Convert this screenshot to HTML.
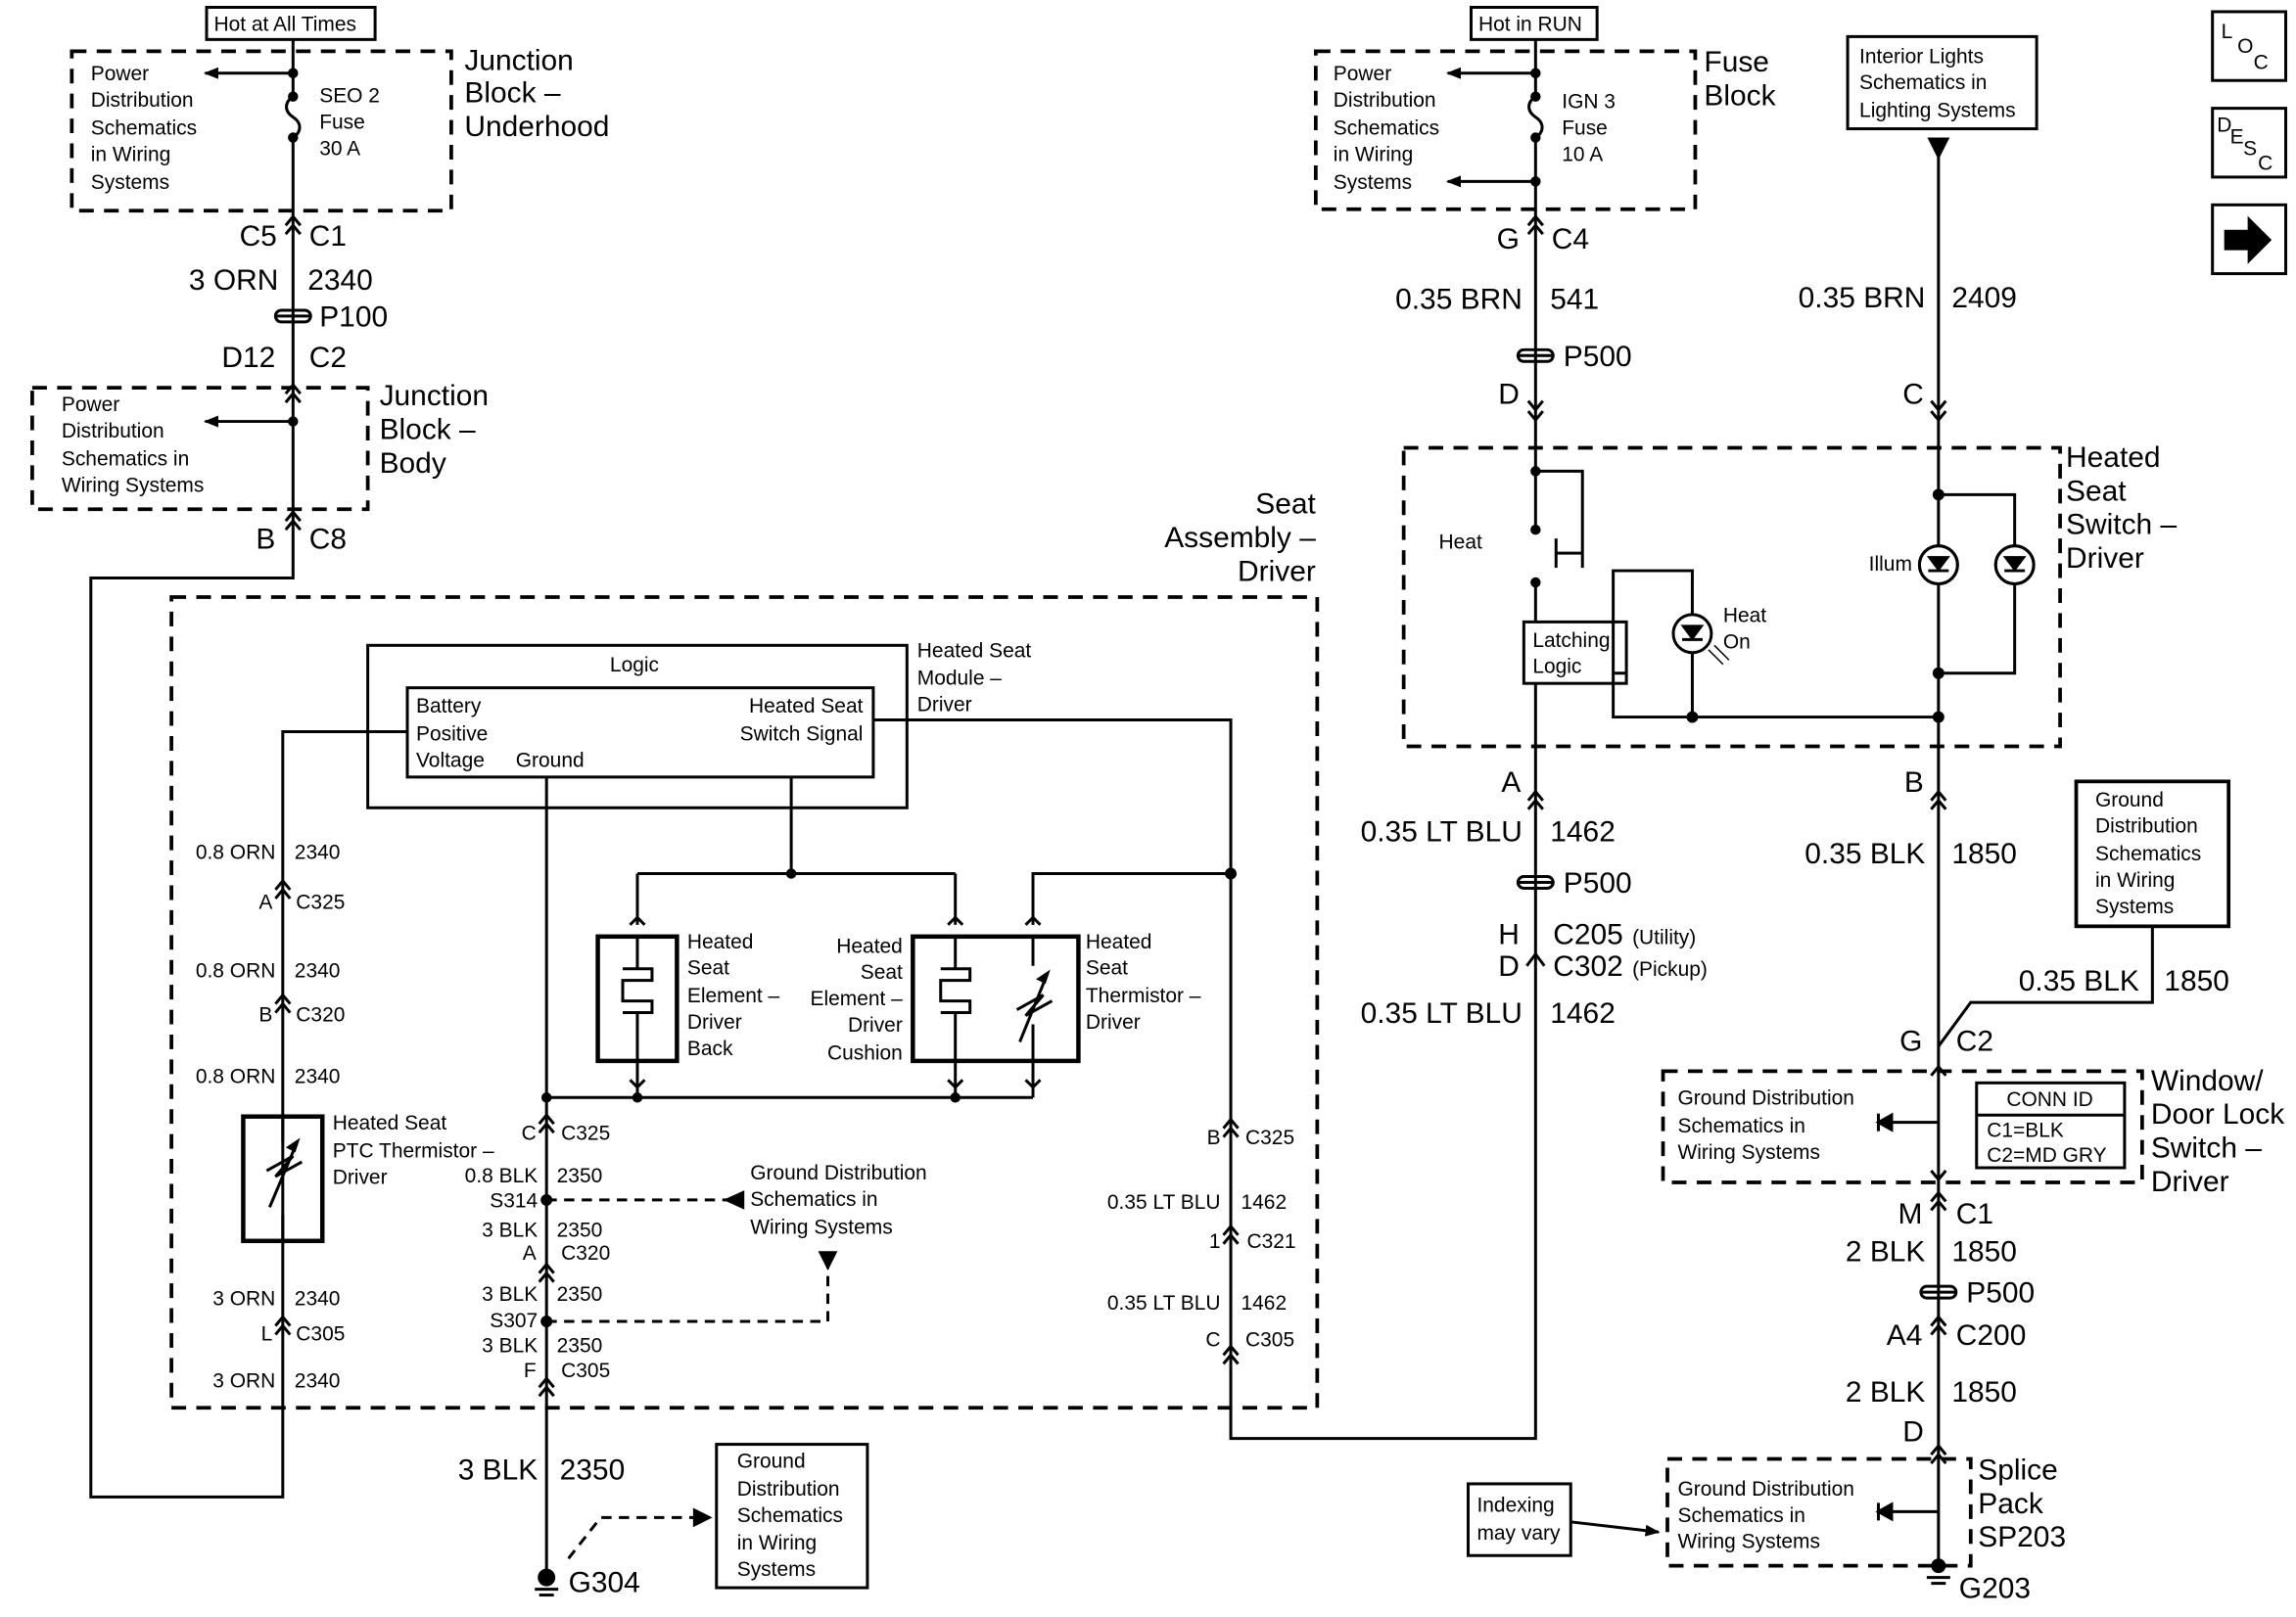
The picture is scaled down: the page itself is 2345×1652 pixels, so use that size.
<!DOCTYPE html>
<html><head><meta charset="utf-8"><style>
html,body{margin:0;padding:0;background:#fff;}
svg{display:block}
text{font-family:"Liberation Sans",sans-serif;fill:#000}
.s{font-size:14px}.l{font-size:20px}
line,polyline,rect,path,circle{stroke:#000;stroke-width:2;fill:none}
.d{stroke-dasharray:10,7;stroke-width:2.5}
.f{fill:#000}
.e{text-anchor:end}
</style></head><body>
<svg width="2345" height="1652" viewBox="0 0 1567 1105" preserveAspectRatio="none">
<defs>
<marker id="a" markerWidth="10" markerHeight="8" refX="9" refY="4" orient="auto" markerUnits="userSpaceOnUse"><path d="M0,0 L10,4 L0,8z" class="f" style="stroke:none"/></marker>
<g id="cn"><polyline points="-5,4 0,-2 5,4"/><polyline points="-5,10 0,4 5,10"/></g>
<g id="pf"><rect x="-12" y="-4" width="24" height="8" rx="4"/><line x1="-12" y1="0" x2="12" y2="0"/></g>
<g id="led"><circle cx="0" cy="0" r="13"/><path d="M-6,-5 L6,-5 L0,3z" class="f"/><line x1="-7" y1="4" x2="7" y2="4"/></g>
</defs>

<!-- ===== TOP LEFT ===== -->
<rect x="141" y="5" width="115" height="22"/><text x="146" y="21" class="s">Hot at All Times</text>
<rect x="49" y="35" width="259" height="109" class="d"/>
<g class="s"><text x="62" y="55">Power</text><text x="62" y="73">Distribution</text><text x="62" y="92">Schematics</text><text x="62" y="110">in Wiring</text><text x="62" y="129">Systems</text>
<text x="218" y="70">SEO 2</text><text x="218" y="88">Fuse</text><text x="218" y="106">30 A</text></g>
<g class="l"><text x="317" y="48">Junction</text><text x="317" y="70">Block –</text><text x="317" y="93">Underhood</text></g>
<line x1="200" y1="27" x2="200" y2="66"/><line x1="200" y1="50" x2="140" y2="50" marker-end="url(#a)"/>
<circle cx="200" cy="50" r="2.5" class="f"/>
<path d="M200,66 c-6,4 -6,10 0,14 c6,4 6,10 0,14 M200,94 L200,360"/>
<circle cx="200" cy="66" r="2.5" class="f"/><circle cx="200" cy="94" r="2.5" class="f"/>
<use href="#cn" x="200" y="150"/>
<text x="189" y="168" class="l e">C5</text><text x="211" y="168" class="l">C1</text>
<text x="190" y="198" class="l e">3 ORN</text><text x="210" y="198" class="l">2340</text>
<use href="#pf" x="200" y="216"/><text x="218" y="223" class="l">P100</text>
<text x="188" y="251" class="l e">D12</text><text x="211" y="251" class="l">C2</text>
<use href="#cn" x="200" y="265"/>
<rect x="22" y="265" width="229" height="83" class="d"/>
<g class="s"><text x="42" y="281">Power</text><text x="42" y="299">Distribution</text><text x="42" y="318">Schematics in</text><text x="42" y="336">Wiring Systems</text></g>
<line x1="200" y1="288" x2="140" y2="288" marker-end="url(#a)"/><circle cx="200" cy="288" r="2.5" class="f"/>
<g class="l"><text x="259" y="277">Junction</text><text x="259" y="300">Block –</text><text x="259" y="323">Body</text></g>
<use href="#cn" x="200" y="352"/>
<text x="188" y="375" class="l e">B</text><text x="211" y="375" class="l">C8</text>
<polyline points="200,360 200,395 62,395 62,1023 193,1023 193,500 278,500"/>

<!-- ===== SEAT ASSEMBLY ===== -->
<rect x="117" y="408" width="782" height="554" class="d"/>
<g class="l"><text x="898" y="351" class="e">Seat</text><text x="898" y="374" class="e">Assembly –</text><text x="898" y="397" class="e">Driver</text></g>
<rect x="251" y="441" width="368" height="111"/><text x="433" y="459" class="s" text-anchor="middle">Logic</text>
<rect x="278" y="470" width="318" height="61"/>
<g class="s"><text x="284" y="487">Battery</text><text x="284" y="506">Positive</text><text x="284" y="524">Voltage</text><text x="352" y="524">Ground</text>
<text x="589" y="487" class="e">Heated Seat</text><text x="589" y="506" class="e">Switch Signal</text>
<text x="626" y="449">Heated Seat</text><text x="626" y="468">Module –</text><text x="626" y="486">Driver</text></g>

<g class="s">
<text x="188" y="587" class="e">0.8 ORN</text><text x="201" y="587">2340</text>
<text x="186" y="621" class="e">A</text><text x="202" y="621">C325</text>
<text x="188" y="668" class="e">0.8 ORN</text><text x="201" y="668">2340</text>
<text x="186" y="698" class="e">B</text><text x="202" y="698">C320</text>
<text x="188" y="740" class="e">0.8 ORN</text><text x="201" y="740">2340</text>
<text x="227" y="772">Heated Seat</text><text x="227" y="791">PTC Thermistor –</text><text x="227" y="809">Driver</text>
<text x="188" y="892" class="e">3 ORN</text><text x="201" y="892">2340</text>
<text x="186" y="916" class="e">L</text><text x="202" y="916">C305</text>
<text x="188" y="948" class="e">3 ORN</text><text x="201" y="948">2340</text>
</g>
<use href="#cn" x="193" y="604"/><use href="#cn" x="193" y="682"/><use href="#cn" x="193" y="902"/>
<rect x="166" y="763" width="54" height="85" style="stroke-width:3"/>
<path d="M193,763 V780 M193,830 V848 M182,800 l18,-10 -12,14 18,-10 M184,825 L203,780" />
<path d="M203,780 l-6,4 4,2z" class="f"/>

<!-- ground line -->
<line x1="373" y1="531" x2="373" y2="1075"/>
<line x1="373" y1="750" x2="705" y2="750"/><circle cx="373" cy="750" r="2.5" class="f"/>
<g class="s">
<text x="366" y="779" class="e">C</text><text x="383" y="779">C325</text>
<text x="367" y="808" class="e">0.8 BLK</text><text x="380" y="808">2350</text>
<text x="367" y="825" class="e">S314</text>
<text x="512" y="806">Ground Distribution</text><text x="512" y="824">Schematics in</text><text x="512" y="843">Wiring Systems</text>
<text x="367" y="845" class="e">3 BLK</text><text x="380" y="845">2350</text>
<text x="366" y="861" class="e">A</text><text x="383" y="861">C320</text>
<text x="367" y="889" class="e">3 BLK</text><text x="380" y="889">2350</text>
<text x="367" y="907" class="e">S307</text>
<text x="367" y="924" class="e">3 BLK</text><text x="380" y="924">2350</text>
<text x="366" y="941" class="e">F</text><text x="383" y="941">C305</text>
</g>
<use href="#cn" x="373" y="764"/><use href="#cn" x="373" y="866"/><use href="#cn" x="373" y="944"/>
<circle cx="373" cy="820" r="3" class="f"/><circle cx="373" cy="903" r="3" class="f"/>
<line x1="373" y1="820" x2="505" y2="820" style="stroke-dasharray:7,5"/><path d="M496,820 l11,-5 0,10z" class="f"/>
<polyline points="373,903 565,903 565,862" style="stroke-dasharray:7,5"/><path d="M565,866 l-5,-10 10,0z" class="f"/>

<!-- switch signal / elements -->
<polyline points="540,531 540,597"/><line x1="435" y1="597" x2="652" y2="597"/><circle cx="540" cy="597" r="2.5" class="f"/>
<polyline points="435,597 435,632"/><polyline points="652,597 652,632"/>
<polyline points="596,492 840,492 840,983 1048,983 1048,540"/>
<polyline points="705,632 705,597 840,597"/><circle cx="840" cy="597" r="3" class="f"/>
<polyline points="430,632 435,627 440,632"/><polyline points="647,632 652,627 657,632"/><polyline points="700,632 705,627 710,632"/>
<rect x="408" y="640" width="54" height="85" style="stroke-width:3"/>
<rect x="623" y="640" width="113" height="85" style="stroke-width:3"/>
<path d="M435,640 V662 M425,662 h20 v8 h-20 v14 h20 v8 h-20 M435,692 V725"/>
<path d="M652,640 V662 M642,662 h20 v8 h-20 v14 h20 v8 h-20 M652,692 V725"/>
<path d="M705,640 V660 M705,700 V725 M694,690 l18,-10 -12,14 18,-10 M696,712 L715,665"/><path d="M715,665 l-6,4 4,2z" class="f"/>
<polyline points="435,725 435,750"/><polyline points="652,725 652,750"/><polyline points="705,725 705,750"/>
<polyline points="430,738 435,743 440,738"/><polyline points="647,738 652,743 657,738"/><polyline points="700,738 705,743 710,738"/>
<circle cx="435" cy="750" r="2.5" class="f"/><circle cx="652" cy="750" r="2.5" class="f"/>
<g class="s">
<text x="469" y="648">Heated</text><text x="469" y="666">Seat</text><text x="469" y="685">Element –</text><text x="469" y="703">Driver</text><text x="469" y="721">Back</text>
<text x="616" y="651" class="e">Heated</text><text x="616" y="669" class="e">Seat</text><text x="616" y="687" class="e">Element –</text><text x="616" y="705" class="e">Driver</text><text x="616" y="724" class="e">Cushion</text>
<text x="741" y="648">Heated</text><text x="741" y="666">Seat</text><text x="741" y="685">Thermistor –</text><text x="741" y="703">Driver</text>
<text x="833" y="782" class="e">B</text><text x="850" y="782">C325</text>
<text x="833" y="826" class="e">0.35 LT BLU</text><text x="847" y="826">1462</text>
<text x="833" y="853" class="e">1</text><text x="851" y="853">C321</text>
<text x="833" y="895" class="e">0.35 LT BLU</text><text x="847" y="895">1462</text>
<text x="833" y="920" class="e">C</text><text x="850" y="920">C305</text>
</g>
<use href="#cn" x="840" y="767"/><use href="#cn" x="840" y="840"/><use href="#cn" x="840" y="922"/>

<!-- bottom G304 -->
<text x="367" y="1011" class="l e">3 BLK</text><text x="382" y="1011" class="l">2350</text>
<rect x="489" y="987" width="103" height="98"/>
<g class="s"><text x="503" y="1003">Ground</text><text x="503" y="1022">Distribution</text><text x="503" y="1040">Schematics</text><text x="503" y="1059">in Wiring</text><text x="503" y="1077">Systems</text></g>
<polyline points="388,1065 410,1037 478,1037" style="stroke-dasharray:7,5"/><path d="M484,1037 l-10,-5 0,10z" class="f"/>
<circle cx="373" cy="1078" r="5" class="f"/><line x1="365" y1="1086" x2="381" y2="1086"/><line x1="368" y1="1090" x2="378" y2="1090"/>
<text x="388" y="1088" class="l">G304</text>

<!-- ===== TOP MIDDLE (Fuse Block) ===== -->
<rect x="1004" y="5" width="86" height="22"/><text x="1009" y="21" class="s">Hot in RUN</text>
<rect x="898" y="35" width="259" height="108" class="d"/>
<g class="s"><text x="910" y="55">Power</text><text x="910" y="73">Distribution</text><text x="910" y="92">Schematics</text><text x="910" y="110">in Wiring</text><text x="910" y="129">Systems</text>
<text x="1066" y="74">IGN 3</text><text x="1066" y="92">Fuse</text><text x="1066" y="110">10 A</text></g>
<g class="l"><text x="1163" y="49">Fuse</text><text x="1163" y="72">Block</text></g>
<line x1="1048" y1="27" x2="1048" y2="66"/><line x1="1048" y1="50" x2="988" y2="50" marker-end="url(#a)"/><circle cx="1048" cy="50" r="2.5" class="f"/>
<path d="M1048,66 c-6,4 -6,10 0,14 c6,4 6,10 0,14 M1048,94 L1048,360"/>
<circle cx="1048" cy="66" r="2.5" class="f"/><circle cx="1048" cy="94" r="2.5" class="f"/>
<line x1="1048" y1="124" x2="988" y2="124" marker-end="url(#a)"/><circle cx="1048" cy="124" r="2.5" class="f"/>
<use href="#cn" x="1048" y="150"/>
<text x="1037" y="170" class="l e">G</text><text x="1059" y="170" class="l">C4</text>
<text x="1039" y="211" class="l e">0.35 BRN</text><text x="1058" y="211" class="l">541</text>
<use href="#pf" x="1048" y="243"/><text x="1067" y="250" class="l">P500</text>
<text x="1037" y="276" class="l e">D</text>
<polyline points="1043,274 1048,280 1053,274"/><polyline points="1043,281 1048,287 1053,281"/>

<!-- switch box -->
<rect x="958" y="306" width="448" height="204" class="d"/>
<polyline points="1048,322 1080,322 1080,388"/><circle cx="1048" cy="322" r="2.5" class="f"/>
<line x1="1048" y1="360" x2="1048" y2="362"/><circle cx="1048" cy="362" r="2.5" class="f"/>
<line x1="1062" y1="368" x2="1062" y2="388"/><line x1="1062" y1="378" x2="1080" y2="378"/>
<circle cx="1048" cy="398" r="2.5" class="f"/><line x1="1048" y1="398" x2="1048" y2="425"/>
<text x="982" y="375" class="s">Heat</text>
<rect x="1040" y="425" width="70" height="42"/>
<text x="1046" y="442" class="s">Latching</text><text x="1046" y="460" class="s">Logic</text>
<line x1="1048" y1="467" x2="1048" y2="540"/>
<polyline points="1110,460 1101,460 1101,390 1155,390 1155,420"/>
<polyline points="1101,460 1101,490 1323,490"/>
<use href="#led" x="1155" y="433"/><line x1="1155" y1="446" x2="1155" y2="490"/><circle cx="1155" cy="490" r="3" class="f"/>
<path d="M1166,444 l10,10 M1170,441 l10,10" style="stroke-width:1"/>
<text x="1176" y="425" class="s">Heat</text><text x="1176" y="443" class="s">On</text>

<!-- right column -->
<rect x="1261" y="25" width="129" height="63"/>
<g class="s"><text x="1269" y="43">Interior Lights</text><text x="1269" y="61">Schematics in</text><text x="1269" y="80">Lighting Systems</text></g>
<path d="M1317,95 l12,0 -6,12z" class="f"/>
<line x1="1323" y1="95" x2="1323" y2="705"/>
<text x="1314" y="210" class="l e">0.35 BRN</text><text x="1332" y="210" class="l">2409</text>
<text x="1313" y="276" class="l e">C</text>
<polyline points="1318,274 1323,280 1328,274"/><polyline points="1318,281 1323,287 1328,281"/>
<polyline points="1323,338 1375,338 1375,460 1323,460"/>
<circle cx="1323" cy="338" r="3" class="f"/><circle cx="1323" cy="460" r="3" class="f"/><circle cx="1323" cy="490" r="3" class="f"/>
<circle cx="1323" cy="386" r="13" style="fill:#fff"/><use href="#led" x="1323" y="386"/>
<circle cx="1375" cy="386" r="13" style="fill:#fff"/><use href="#led" x="1375" y="386"/>
<text x="1305" y="390" class="s e">Illum</text>
<g class="l"><text x="1410" y="319">Heated</text><text x="1410" y="342">Seat</text><text x="1410" y="365">Switch –</text><text x="1410" y="388">Driver</text></g>

<text x="1038" y="541" class="l e">A</text><text x="1313" y="541" class="l e">B</text>
<use href="#cn" x="1048" y="543"/><use href="#cn" x="1323" y="543"/>
<text x="1039" y="575" class="l e">0.35 LT BLU</text><text x="1058" y="575" class="l">1462</text>
<use href="#pf" x="1048" y="603"/><text x="1067" y="610" class="l">P500</text>
<text x="1037" y="645" class="l e">H</text><text x="1060" y="645" class="l">C205</text><text x="1114" y="645" class="s">(Utility)</text>
<text x="1037" y="667" class="l e">D</text><text x="1060" y="667" class="l">C302</text><text x="1114" y="667" class="s">(Pickup)</text>
<path d="M1042,660 l6,-8 6,8" />
<text x="1039" y="699" class="l e">0.35 LT BLU</text><text x="1058" y="699" class="l">1462</text>

<text x="1314" y="590" class="l e">0.35 BLK</text><text x="1332" y="590" class="l">1850</text>
<rect x="1417" y="534" width="104" height="99" style="stroke-width:2.5"/>
<g class="s"><text x="1430" y="551">Ground</text><text x="1430" y="569">Distribution</text><text x="1430" y="588">Schematics</text><text x="1430" y="606">in Wiring</text><text x="1430" y="624">Systems</text></g>
<polyline points="1469,633 1469,685 1345,685 1323,715"/>
<text x="1460" y="677" class="l e">0.35 BLK</text><text x="1477" y="677" class="l">1850</text>
<text x="1312" y="718" class="l e">G</text><text x="1335" y="718" class="l">C2</text>
<line x1="1323" y1="705" x2="1323" y2="1072"/>
<polyline points="1318,735 1323,729 1328,735"/>
<rect x="1135" y="732" width="327" height="76" class="d"/>
<g class="s"><text x="1145" y="755">Ground Distribution</text><text x="1145" y="774">Schematics in</text><text x="1145" y="792">Wiring Systems</text></g>
<line x1="1323" y1="767" x2="1286" y2="767"/><path d="M1282,767 l9,-5 0,10z" class="f"/><line x1="1282" y1="761" x2="1282" y2="773"/>
<rect x="1349" y="740" width="101" height="58"/><line x1="1349" y1="762" x2="1450" y2="762"/>
<text x="1399" y="756" class="s" text-anchor="middle">CONN ID</text><text x="1356" y="777" class="s">C1=BLK</text><text x="1356" y="794" class="s">C2=MD GRY</text>
<g class="l"><text x="1468" y="745">Window/</text><text x="1468" y="768">Door Lock</text><text x="1468" y="791">Switch –</text><text x="1468" y="814">Driver</text></g>
<polyline points="1318,800 1323,806 1328,800"/>
<text x="1312" y="836" class="l e">M</text><text x="1335" y="836" class="l">C1</text>
<use href="#cn" x="1323" y="817"/>
<text x="1314" y="862" class="l e">2 BLK</text><text x="1332" y="862" class="l">1850</text>
<use href="#pf" x="1323" y="883"/><text x="1342" y="890" class="l">P500</text>
<text x="1312" y="919" class="l e">A4</text><text x="1335" y="919" class="l">C200</text>
<use href="#cn" x="1323" y="902"/>
<text x="1314" y="958" class="l e">2 BLK</text><text x="1332" y="958" class="l">1850</text>
<text x="1313" y="985" class="l e">D</text><use href="#cn" x="1323" y="990"/>
<rect x="1138" y="997" width="207" height="73" class="d"/>
<g class="s"><text x="1145" y="1022">Ground Distribution</text><text x="1145" y="1040">Schematics in</text><text x="1145" y="1058">Wiring Systems</text></g>
<line x1="1323" y1="1033" x2="1286" y2="1033"/><path d="M1282,1033 l9,-5 0,10z" class="f"/><line x1="1282" y1="1027" x2="1282" y2="1039"/>
<g class="l"><text x="1350" y="1011">Splice</text><text x="1350" y="1034">Pack</text><text x="1350" y="1057">SP203</text></g>
<circle cx="1323" cy="1070" r="4" class="f"/><line x1="1315" y1="1078" x2="1331" y2="1078"/><line x1="1318" y1="1082" x2="1328" y2="1082"/>
<text x="1337" y="1092" class="l">G203</text>
<rect x="1002" y="1014" width="70" height="49"/>
<text x="1008" y="1033" class="s">Indexing</text><text x="1008" y="1052" class="s">may vary</text>
<line x1="1072" y1="1040" x2="1132" y2="1047" marker-end="url(#a)"/>

<!-- right icons -->
<rect x="1510" y="8" width="50" height="47"/><text x="1516" y="26" class="s">L</text><text x="1527" y="36" class="s">O</text><text x="1538" y="47" class="s">C</text>
<rect x="1510" y="74" width="50" height="47"/><text x="1513" y="90" class="s">D</text><text x="1522" y="98" class="s">E</text><text x="1531" y="106" class="s">S</text><text x="1541" y="116" class="s">C</text>
<rect x="1510" y="140" width="50" height="47"/><path d="M1519,158 h16 v-8 l14,14 -14,14 v-8 h-16z" class="f"/>
</svg>
</body></html>
